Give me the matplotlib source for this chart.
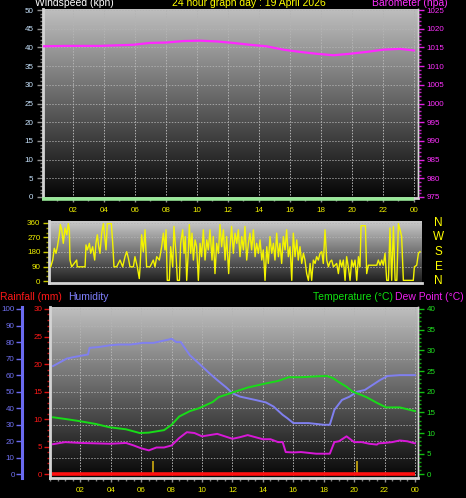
import matplotlib
matplotlib.use('Agg')
import matplotlib.pyplot as plt
import matplotlib.transforms as mtransforms
import numpy as np
from matplotlib.ticker import MultipleLocator
from matplotlib.colors import LinearSegmentedColormap

plt.rcParams['font.family'] = ['Liberation Sans', 'DejaVu Sans']

# ---------------- data ----------------
hour_ticks = [2, 4, 6, 8, 10, 12, 14, 16, 18, 20, 22, 24]
hour_labels = ['02', '04', '06', '08', '10', '12', '14', '16', '18', '20', '22', '00']

press_h = [0.08, 1.59, 3.74, 5.89, 6.97, 8.04, 9.12, 10.19, 11.27, 12.34, 13.42,
           14.49, 15.57, 16.65, 17.72, 18.80, 19.87, 20.95, 22.02, 23.10, 24.0]
press_v = [1015.3, 1015.4, 1015.4, 1015.7, 1016.2, 1016.3, 1016.7, 1016.8, 1016.6,
           1016.2, 1015.7, 1015.3, 1014.4, 1013.8, 1013.3, 1012.9, 1013.3, 1013.8,
           1014.4, 1014.6, 1014.2]

wspd_h = [0.0, 24.0]
wspd_v = [0.0, 0.0]

wdir_h = [0.11, 0.24, 0.34, 0.45, 0.54, 0.66, 0.73, 0.82, 0.92, 1.03, 1.14, 1.24, 1.31,
          1.35, 1.46, 1.78, 1.82, 2.32, 2.38, 2.47, 2.60, 2.68, 2.81, 2.94, 3.02, 3.11,
          3.20, 3.28, 3.39, 3.50, 3.67, 3.75, 3.88, 4.01, 4.10, 4.18, 4.35, 4.57, 4.74,
          4.89, 5.00, 5.11, 5.21, 5.43, 5.53, 5.68, 5.81, 5.86, 5.96, 6.07, 6.18, 6.28,
          6.50, 6.71, 6.82, 6.93, 7.10, 7.25, 7.36, 7.46, 7.53, 7.61, 7.74, 7.83, 7.96,
          8.04, 8.17, 8.26, 8.39, 8.47, 8.60, 8.69, 8.77, 8.86, 8.97, 9.03, 9.12, 9.20,
          9.29, 9.40, 9.50, 9.61, 9.72, 9.82, 9.93, 10.04, 10.15, 10.25, 10.36, 10.49,
          10.57, 10.68, 10.79, 10.90, 11.00, 11.11, 11.22, 11.33, 11.43, 11.56, 11.65,
          11.75, 11.86, 11.97, 12.08, 12.18, 12.29, 12.40, 12.51, 12.61, 12.72, 12.83,
          12.93, 13.04, 13.15, 13.26, 13.36, 13.47, 13.58, 13.69, 13.79, 13.90, 14.01,
          14.11, 14.22, 14.33, 14.44, 14.54, 14.65, 14.76, 14.86, 14.97, 15.08, 15.19,
          15.29, 15.40, 15.51, 15.62, 15.72, 15.83, 15.94, 16.04, 16.15, 16.26, 16.37,
          16.47, 16.58, 16.69, 16.80, 16.90, 17.01, 17.12, 17.22, 17.33, 17.44, 17.55,
          17.65, 17.76, 17.87, 17.98, 18.08, 18.19, 18.30, 18.51, 18.62, 18.73, 18.83,
          18.94, 19.05, 19.15, 19.26, 19.37, 19.48, 19.58, 19.69, 19.80, 19.91, 20.01,
          20.08, 20.36, 20.44, 20.55, 21.09, 21.19, 21.30, 21.41, 21.51, 21.62, 21.73,
          21.84, 21.94, 22.05, 22.16, 22.27, 22.38, 22.48, 22.59, 22.69, 22.80, 23.44,
          23.51, 23.66, 23.77, 23.87]
wdir_v = [88, 130, 203, 172, 213, 287, 350, 318, 234, 329, 287, 356, 318,
          130, 88, 130, 88, 88, 224, 193, 234, 172, 213, 130, 234, 287,
          213, 172, 297, 356, 193, 356, 356, 356, 234, 88, 88, 130, 88,
          151, 182, 140, 88, 88, 151, 88, 15, 88, 287, 182, 318, 88,
          88, 130, 88, 151, 130, 213, 297, 193, 318, 4, 4, 213, 88,
          339, 172, 4, 4, 234, 318, 172, 276, 4, 193, 350, 172, 297,
          130, 255, 213, 4, 234, 151, 318, 130, 255, 193, 318, 130,
          276, 46, 234, 172, 350, 213, 318, 130, 276, 46, 213,
          339, 172, 297, 234, 318, 151, 276, 193, 339, 130, 234,
          297, 193, 318, 151, 234, 172, 255, 130, 193, 4, 213,
          109, 276, 172, 234, 130, 297, 151, 234, 109, 276, 193,
          318, 151, 213, 4, 297, 151, 255, 130, 213, 109, 172,
          130, 46, 4, 109, 4, 130, 109, 151, 130, 172, 182,
          109, 318, 130, 88, 119, 130, 88, 109, 46, 130, 88,
          130, 4, 151, 88, 4, 130, 88, 130, 4, 151, 88,
          343, 343, 46, 98, 98, 130, 98, 130, 98, 172, 4,
          4, 329, 4, 339, 4, 4, 356, 318, 276, 4, 4,
          88, 98, 172, 182]

hum_h = [0.2, 0.6, 1.1, 1.6, 2.2, 2.5, 2.6, 3.2, 3.9, 4.5, 5.3, 6.1, 6.8, 7.3, 7.8, 8.0,
         8.3, 8.6, 9.2, 9.8, 10.5, 11.0, 11.6, 12.0, 12.5, 13.0, 13.5, 14.2, 14.7, 15.3,
         15.6, 16.0, 16.5, 17.0, 17.5, 18.0, 18.4, 18.7, 19.2, 19.7, 20.2, 20.7, 21.2,
         21.7, 22.2, 23.0, 24.0]
hum_v = [65.5, 67.5, 70, 71, 72, 72.5, 76.5, 77, 78, 78.5, 78.5, 79.5, 79.5, 80.5, 81.5,
         82, 80, 80, 72, 67, 61, 57, 52.5, 49, 47, 46, 45, 43.5, 41, 36, 34, 31, 31, 31,
         30.5, 30, 30, 39, 45, 47, 50, 51, 54, 57, 59.5, 60, 60]

temp_h = [0.2, 1.0, 1.9, 3.0, 3.9, 5.0, 5.9, 6.5, 7.0, 7.5, 8.0, 8.5, 9.2, 9.8, 10.7,
          11.1, 11.6, 12.0, 13.0, 14.2, 15.0, 15.7, 16.5, 17.5, 18.2, 18.6, 19.0, 19.5,
          19.9, 20.4, 20.8, 21.5, 22.1, 23.0, 24.0]
temp_v = [13.8, 13.4, 12.9, 12.2, 11.4, 10.9, 10.0, 10.1, 10.4, 10.7, 12.0, 14.0, 15.3,
          16.0, 17.5, 18.7, 19.3, 19.8, 21.0, 22.0, 22.6, 23.5, 23.5, 23.7, 23.8, 23.3,
          22.3, 21.2, 20.0, 19.3, 18.7, 17.3, 16.2, 16.2, 15.3]

dew_h = [0.2, 1.0, 2.0, 3.0, 4.0, 5.0, 5.5, 6.0, 6.5, 7.0, 7.5, 8.0, 8.5, 9.0, 9.5, 10.0,
         10.5, 11.0, 11.5, 12.0, 12.5, 13.0, 13.5, 14.0, 14.5, 15.0, 15.3, 15.5, 16.0,
         16.5, 17.0, 17.5, 18.0, 18.4, 18.7, 19.0, 19.5, 20.0, 20.5, 21.0, 21.5, 21.6,
         22.0, 22.5, 23.0, 23.5, 24.0]
dew_v = [7.3, 7.8, 7.6, 7.5, 7.4, 7.6, 7.0, 6.3, 5.8, 6.5, 6.5, 7.0, 8.8, 10.2, 10.0, 9.2,
         9.5, 9.8, 9.2, 8.6, 9.0, 9.5, 9.0, 8.5, 8.5, 7.8, 7.8, 5.4, 5.3, 5.4, 5.2, 5.0,
         5.0, 5.0, 7.8, 8.0, 9.2, 7.8, 7.8, 7.4, 7.2, 7.5, 7.6, 7.8, 8.2, 8.0, 7.5]

rain_h = [0.1, 24.0]
rain_v = [0.0, 0.0]

sun_events = [6.8, 20.2]      # sunrise / sunset markers (hours)
sun_marker_top = 8            # in humidity units

# ---------------- figure ----------------
W, H = 466, 498
fig = plt.figure(figsize=(W / 100, H / 100), dpi=100, facecolor='black')


def rect(l, t, r, b):
    return [l / W, 1 - b / H, (r - l) / W, (b - t) / H]


def px2pt(p):
    return p * 72 / 100


FS = 5.8
YELLOW = '#f0f000'
FRAME = '#d4d4d4'
GRID = '#b4b4b4'


def gradient(ax, top, bottom):
    g = np.linspace(0, 1, 256).reshape(-1, 1)
    cmap = LinearSegmentedColormap.from_list('g', [bottom, top])
    ax.imshow(g, extent=[0, 1, 0, 1], transform=ax.transAxes, cmap=cmap,
              aspect='auto', origin='lower', zorder=0, interpolation='bilinear')


def frame(ax, right=True):
    ax.set_facecolor('black')
    ax.spines['top'].set_visible(False)
    ax.spines['left'].set_color(FRAME)
    ax.spines['left'].set_linewidth(2)
    ax.spines['bottom'].set_color(FRAME)
    ax.spines['bottom'].set_linewidth(2)
    if right:
        ax.spines['right'].set_color(FRAME)
        ax.spines['right'].set_linewidth(1)
    else:
        ax.spines['right'].set_visible(False)


def vgrid(ax, ymin, ymax):
    for h in hour_ticks:
        ax.plot([h, h], [ymin, ymax], color=GRID, lw=0.7, ls=(0, (1.5, 1.5)), zorder=1)


def hgrid(ax, vals, xmin, xmax):
    for v in vals:
        ax.plot([xmin, xmax], [v, v], color=GRID, lw=0.7, ls=(0, (1.5, 1.5)), zorder=1, alpha=0.8)


# ---------- Panel 1: windspeed / barometer ----------
ax1 = fig.add_axes(rect(43, 9, 418, 198))
frame(ax1)
gradient(ax1, '#c0c0c0', '#040404')
x1 = (0.08, 24.26)
y1 = (-0.27, 50.27)
vgrid(ax1, y1[0], y1[1])
hgrid(ax1, range(5, 51, 5), x1[0], x1[1])
off = mtransforms.offset_copy(ax1.transData, fig=fig, x=0, y=-2.5, units='dots')
ax1.plot(wspd_h, wspd_v, color='#98e898', lw=2.6, transform=off, clip_on=False, zorder=5,
         solid_capstyle='butt')
ax1.set_xlim(*x1)
ax1.set_ylim(*y1)
ax1.yaxis.set_major_locator(MultipleLocator(5))
ax1.yaxis.set_minor_locator(MultipleLocator(1))
ax1.tick_params(axis='y', which='major', colors='#909090', labelcolor='#c8e4ff',
                labelsize=FS, length=4, width=1, pad=px2pt(4))
ax1.tick_params(axis='y', which='minor', colors='#808080', length=2, width=1)
ax1.set_xticks(hour_ticks)
ax1.set_xticklabels(hour_labels)
ax1.xaxis.set_minor_locator(MultipleLocator(1))
ax1.tick_params(axis='x', which='major', colors='#909090', labelcolor=YELLOW,
                labelsize=FS, length=3, width=1, pad=px2pt(5))
ax1.tick_params(axis='x', which='minor', colors='#808080', length=2, width=1)

ax1p = ax1.twinx()
ax1p.set_ylim(y1[0] + 975, y1[1] + 975)
ax1p.plot(press_h, press_v, color='#ff28ff', lw=1.6, zorder=4)
ax1p.yaxis.set_major_locator(MultipleLocator(5))
ax1p.yaxis.set_minor_locator(MultipleLocator(1))
ax1p.tick_params(axis='y', which='major', colors='#e020e0', labelcolor='#ff30ff',
                 labelsize=FS, length=4, width=1, pad=px2pt(3))
ax1p.tick_params(axis='y', which='minor', colors='#c020c0', length=2, width=1)
for s in ['top', 'left', 'bottom']:
    ax1p.spines[s].set_visible(False)
ax1p.spines['right'].set_color(FRAME)
ax1p.spines['right'].set_linewidth(1)

# titles (sit at the very top edge, as in the reference)
TY = 1 - 6.5 / H
fig.text(35 / W, TY, 'Windspeed (kph)', color='white', fontsize=7.5, va='baseline')
fig.text(172 / W, TY, '24 hour graph day : 19 April 2026', color='#ffff00',
         fontsize=7.5, va='baseline')
fig.text(372 / W, TY, 'Barometer (hpa)', color='#ff30ff', fontsize=7.5, va='baseline')

# ---------- Panel 2: wind direction ----------
ax2 = fig.add_axes(rect(49, 221, 422, 283))
frame(ax2, right=False)
gradient(ax2, '#cacaca', '#1c1c1c')
y2 = (-12.4, 372.4)
hgrid(ax2, [90, 180, 270, 360], 0, 24)
ax2.plot(wdir_h, wdir_v, color='#f4f400', lw=1.0, zorder=4)
ax2.set_xlim(0, 24)
ax2.set_ylim(*y2)
ax2.set_yticks([0, 90, 180, 270, 360])
ax2.yaxis.set_minor_locator(MultipleLocator(30))
ax2.tick_params(axis='y', which='major', colors='#c8c800', labelcolor=YELLOW,
                labelsize=FS, length=4, width=1, pad=px2pt(3))
ax2.tick_params(axis='y', which='minor', colors='#a0a000', length=2, width=1)
ax2.set_xticks([])
for lab, v in zip(['N', 'W', 'S', 'E', 'N'], [360, 270, 180, 90, 0]):
    ax2.text(1.045, v, lab, transform=ax2.get_yaxis_transform(), color='#ffff00',
             fontsize=8.5, ha='center', va='center')

# ---------- Panel 3: rain / humidity / temperature / dew ----------
ax3 = fig.add_axes(rect(50, 307, 418, 478))
frame(ax3)
gradient(ax3, '#c0c0c0', '#060606')
x3 = (0.0, 24.2)
y3 = (-2.2, 101.2)
vgrid(ax3, y3[0], y3[1])
hgrid(ax3, range(10, 101, 10), x3[0], x3[1])
ax3.plot(hum_h, hum_v, color='#8080f0', lw=1.4, zorder=4)
ax3.vlines(sun_events, 0, sun_marker_top, color='#c0a010', lw=1.3, zorder=4)
ax3.set_xlim(*x3)
ax3.set_ylim(*y3)
ax3.spines['left'].set_position(('outward', 20))
ax3.spines['left'].set_color('#6a6af0')
ax3.spines['left'].set_linewidth(2.2)
ax3.yaxis.set_major_locator(MultipleLocator(10))
ax3.tick_params(axis='y', which='major', colors='#6a6af0', labelcolor='#7070f0',
                labelsize=FS, length=4, width=1, pad=px2pt(2))
ax3.set_xticks(hour_ticks)
ax3.set_xticklabels(hour_labels)
ax3.xaxis.set_minor_locator(MultipleLocator(0.5))
ax3.tick_params(axis='x', which='major', colors='#909090', labelcolor=YELLOW,
                labelsize=FS, length=3, width=1, pad=px2pt(5))
ax3.tick_params(axis='x', which='minor', colors='#808080', length=2, width=1)

axR = ax3.twinx()
axR.set_ylim(y3[0] * 0.3, y3[1] * 0.3)
axR.plot(rain_h, rain_v, color='#ff1010', lw=2.6, zorder=5, solid_capstyle='butt')
axR.yaxis.tick_left()
for s in ['top', 'right', 'bottom']:
    axR.spines[s].set_visible(False)
axR.spines['left'].set_visible(True)
axR.spines['left'].set_color(FRAME)
axR.spines['left'].set_linewidth(2)
axR.yaxis.set_major_locator(MultipleLocator(5))
axR.yaxis.set_minor_locator(MultipleLocator(1))
axR.tick_params(axis='y', which='major', colors='#e01010', labelcolor='#ff1818',
                labelsize=FS, length=4, width=1, pad=px2pt(2))
axR.tick_params(axis='y', which='minor', colors='#c01010', length=2, width=1)

axT = ax3.twinx()
axT.set_ylim(y3[0] * 0.4, y3[1] * 0.4)
axT.plot(temp_h, temp_v, color='#18dc18', lw=1.4, zorder=5)
axT.plot(dew_h, dew_v, color='#d818d8', lw=1.4, zorder=5)
for s in ['top', 'left', 'bottom']:
    axT.spines[s].set_visible(False)
axT.spines['right'].set_color(FRAME)
axT.spines['right'].set_linewidth(1)
axT.yaxis.set_major_locator(MultipleLocator(5))
axT.yaxis.set_minor_locator(MultipleLocator(1))
axT.tick_params(axis='y', which='major', colors='#10c010', labelcolor='#20e020',
                labelsize=FS, length=4, width=1, pad=px2pt(3))
axT.tick_params(axis='y', which='minor', colors='#10a010', length=2, width=1)

fig.text(0 / W, 1 - 300 / H, 'Rainfall (mm)', color='#ff1818', fontsize=7.5, va='baseline')
fig.text(68 / W, 1 - 300 / H, 'Humidity', color='#8080ff', fontsize=7.5, va='baseline')
fig.text(313 / W, 1 - 300 / H, 'Temperature (°C)', color='#10e010', fontsize=7.5, va='baseline')
fig.text(395 / W, 1 - 300 / H, 'Dew Point (°C)', color='#f020f0', fontsize=7.5, va='baseline')

fig.savefig('out.png', dpi=100, facecolor='black')
